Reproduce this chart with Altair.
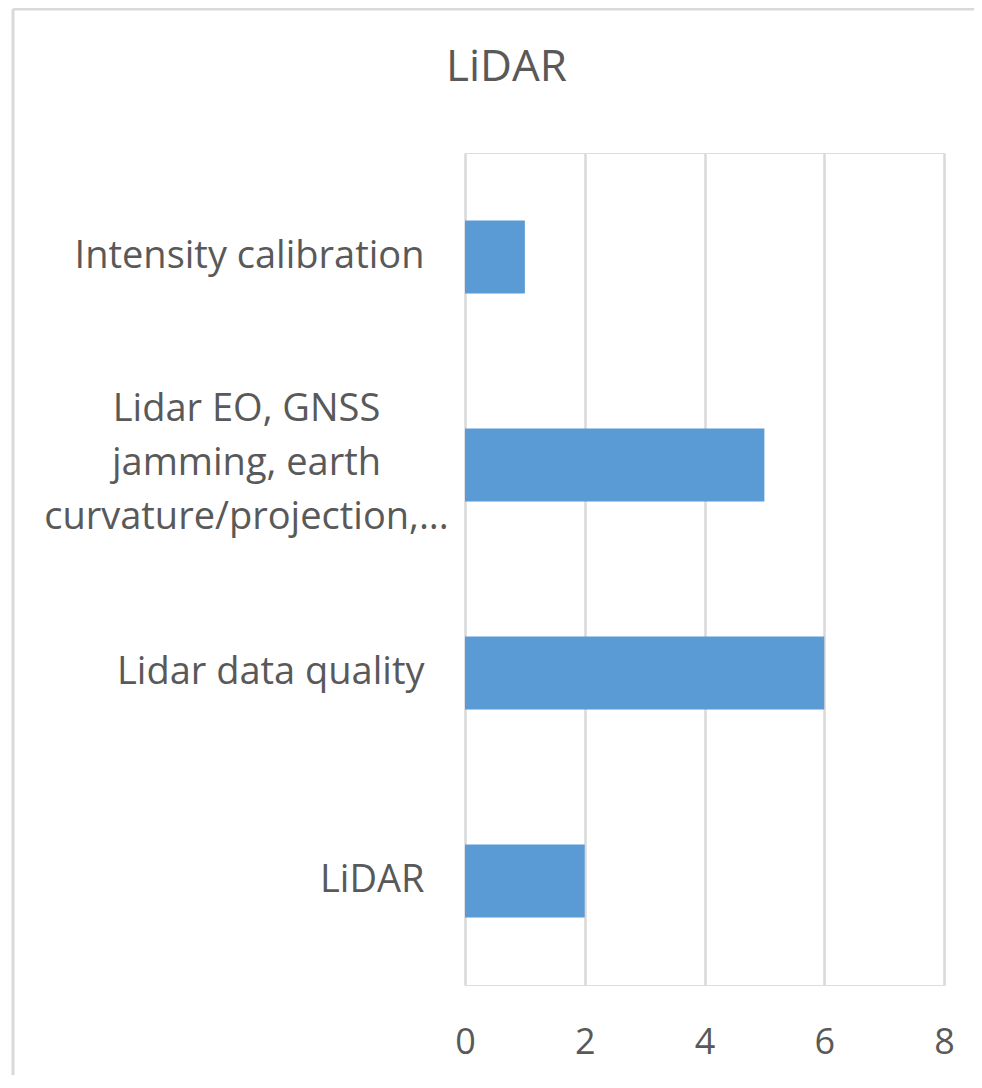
import altair as alt
import pandas as pd

categories = [
    "Intensity calibration",
    "Lidar EO, GNSS\njamming, earth\ncurvature/projection,...",
    "Lidar data quality",
    "LiDAR",
]
values = [1, 5, 6, 2]
x_ticks = [0, 2, 4, 6, 8]
title_text = "LiDAR"

df = pd.DataFrame({"category": categories, "count": values})

W, H = 479, 832
PAD = {"left": 457, "top": 145, "right": 30, "bottom": 90}
TXT = "#595959"
FONT = "Open Sans"
multi = "indexof(datum.value, '\\n') >= 0"

bars = alt.Chart(df).mark_bar(color="#5b9bd5").encode(
    x=alt.X(
        "count:Q",
        scale=alt.Scale(domain=[0, 8], nice=False),
        axis=alt.Axis(
            values=x_ticks, title=None, grid=True, gridColor="#d9d9d9", gridWidth=2.5,
            domain=False, ticks=False, tickSize=0, labelPadding=57, labelBaseline="middle",
            labelFlush=False, labelFont=FONT, labelFontSize=36, labelColor=TXT,
        ),
    ),
    y=alt.Y(
        "category:N",
        sort=categories,
        scale=alt.Scale(paddingInner=0.65, paddingOuter=0.325),
        axis=alt.Axis(
            title=None, grid=False, domain=False, ticks=False, tickSize=0,
            labelExpr="split(datum.value, '\\n')",
            labelAlign={"condition": {"test": multi, "value": "center"}, "value": "right"},
            labelPadding={"condition": {"test": multi, "value": 219}, "value": 41},
            labelOffset={"condition": {"test": multi, "value": -55}, "value": 0},
            labelBaseline="middle", labelLineHeight=54,
            labelFont=FONT, labelFontSize=38, labelColor=TXT, labelLimit=0,
        ),
    ),
)

frame_df = pd.DataFrame({"a": [0]})
border_left = alt.Chart(frame_df).mark_rule(color="#d9d9d9", strokeWidth=3).encode(
    x=alt.value(-452), y=alt.value(-144), y2=alt.value(H + 90)
)
border_top = alt.Chart(frame_df).mark_rule(color="#d9d9d9", strokeWidth=3).encode(
    x=alt.value(-452), x2=alt.value(W + 30), y=alt.value(-144)
)

chart = alt.layer(border_left, border_top, bars).properties(
    width=W,
    height=H,
    padding=PAD,
    autosize=alt.AutoSizeParams(type="none"),
    title=alt.TitleParams(
        title_text, frame="group", anchor="middle", dx=-198, baseline="alphabetic",
        offset=-117, font=FONT, fontSize=44, fontWeight="normal", color=TXT,
    ),
).configure_view(stroke=None).configure(background="white")

chart.save("out.html", embed_options={"renderer": "svg", "actions": False})
